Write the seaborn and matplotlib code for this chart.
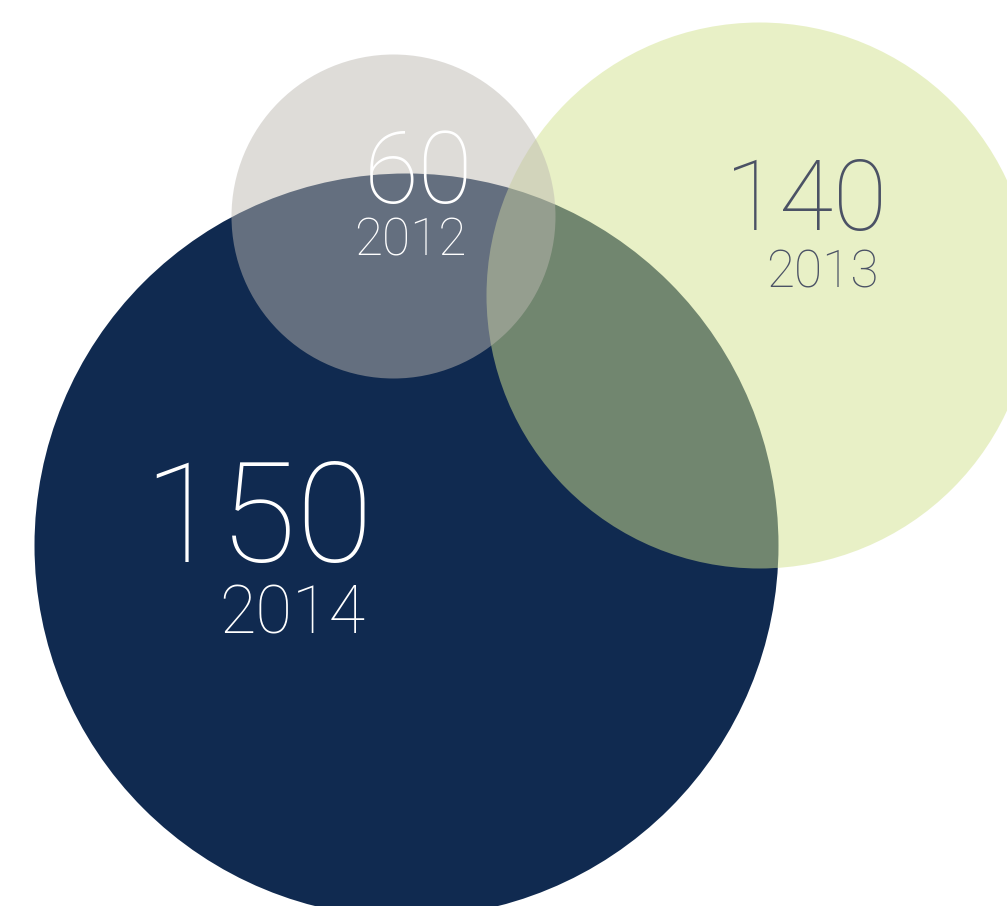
#!/usr/bin/env python3
# Overlapping bubbles: yearly totals

import pandas as pd
import matplotlib.pyplot as plt
import seaborn as sns

# data
years = ['2012', '2013', '2014']
values = [60, 140, 150]
center_x = [393, 759, 406]      # bubble centres (pixels)
center_y = [216, 295, 545]
radius = [162, 273, 372]        # bubble radii (pixels)

colors = {'2012': '#bcb8b1', '2013': '#d2e28e', '2014': '#102a50'}
alphas = {'2012': 0.49, '2013': 0.5, '2014': 1.0}
draw_order = ['2014', '2013', '2012']

sns.set_style('white')
plt.rcParams['font.family'] = ['Roboto', 'DejaVu Sans']

df = pd.DataFrame({'year': years, 'value': values,
                   'x': center_x, 'y': center_y, 'r': radius})
# marker area in points^2 so the diameter matches the radius in pixels (dpi 100)
df['s'] = (2 * df['r'] * 72 / 100) ** 2

fig = plt.figure(figsize=(10.07, 9.06), dpi=100)
ax = fig.add_axes([0, 0, 1, 1])

for yr in draw_order:
    row = df[df['year'] == yr]
    sns.scatterplot(data=row, x='x', y='y', s=float(row['s'].iloc[0]),
                    color=colors[yr], alpha=alphas[yr], linewidth=0,
                    ax=ax, legend=False, zorder=2)

ax.set_xlim(0, 1007)
ax.set_ylim(906, 0)
ax.axis('off')

# labels: (value pos, value size, year pos, year size, colour)
labels = {
    '2012': ((419, 203), 72, (410, 256), 37, 'white'),
    '2013': ((806, 230), 71, (822, 287), 37, '#4b5265'),
    '2014': ((258, 562), 101, (292, 634), 48, 'white'),
}
for _, row in df.iterrows():
    (vx, vy), vs, (yx, yy), ys, c = labels[row['year']]
    ax.text(vx, vy, str(row['value']), fontsize=vs, fontweight='light',
            color=c, ha='center', va='baseline', zorder=5)
    ax.text(yx, yy, row['year'], fontsize=ys, fontweight='light',
            color=c, ha='center', va='baseline', zorder=5)

plt.savefig('out.png', dpi=100)
